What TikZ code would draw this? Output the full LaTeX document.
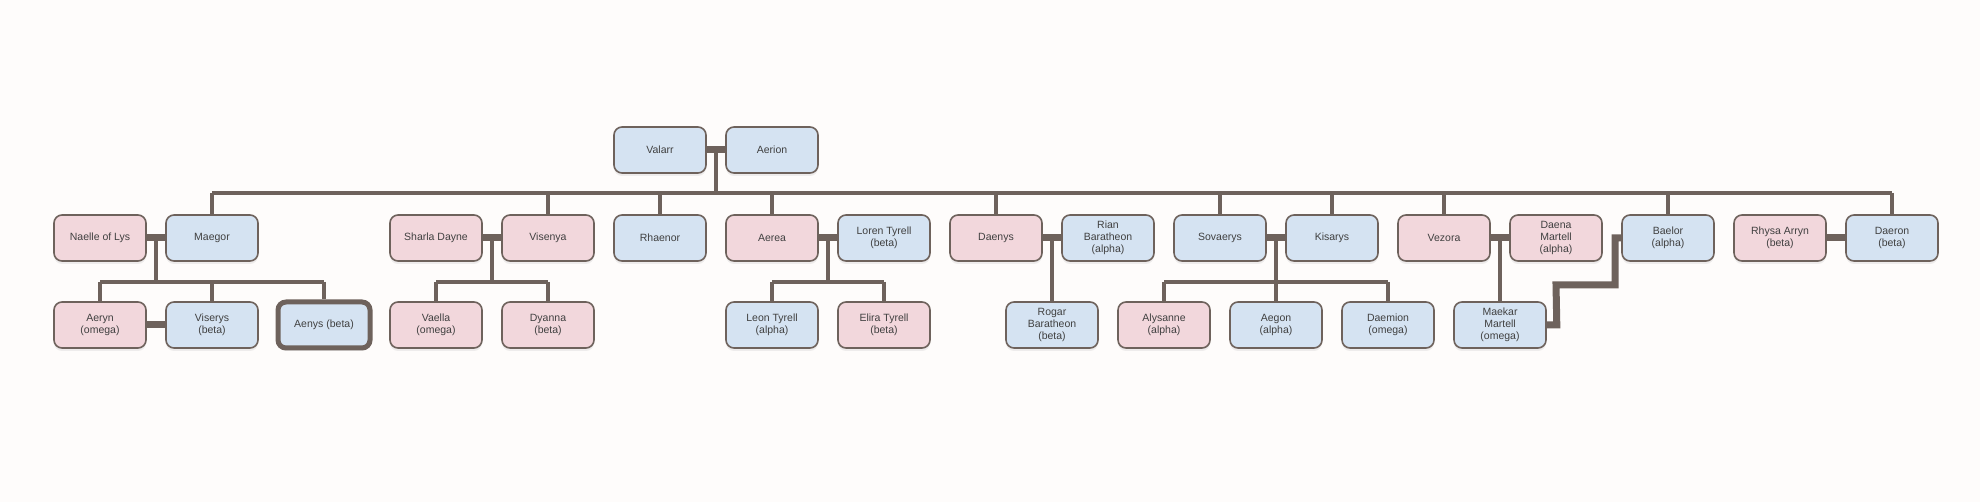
\documentclass[tikz,border=0pt]{standalone}
\usepackage{fontspec}
\setmainfont{Liberation Sans}
\usetikzlibrary{shadows}
\definecolor{fondrose}{HTML}{F2D7DC}
\definecolor{fondbleu}{HTML}{D5E3F2}
\definecolor{trait}{HTML}{6E625C}
\tikzset{
    membre/.style={draw=trait, line width=1.6pt, rounded corners=8pt, minimum width=92pt,
        minimum height=46pt, align=center, inner sep=1pt,
        font=\fontsize{10.5}{12}\selectfont\color{black!75},
        drop shadow={shadow xshift=0pt, shadow yshift=-3pt, opacity=0.12}},
    rose/.style={membre, fill=fondrose},
    bleu/.style={membre, fill=fondbleu},
    lien/.style={draw=trait, line width=3.5pt},
    union/.style={draw=trait, line width=7pt}
}
\begin{document}
\begin{tikzpicture}[x=1pt,y=-1pt]
    % Fond
    \fill[white!98!brown] (0,0) rectangle (1980,502);
    \useasboundingbox (0,0) rectangle (1980,502);
    % Generation 1
    \node[bleu] (valarr) at (660,150) {Valarr};
    \node[bleu] (aerion) at (772,150) {Aerion};
    % Generation 2
    \node[rose] (naelle) at (100,238) {Naelle of Lys};
    \node[bleu] (maegor) at (212,238) {Maegor};
    \node[rose] (sharla) at (436,238) {Sharla Dayne};
    \node[rose] (visenya) at (548,238) {Visenya};
    \node[bleu] (rhaenor) at (660,238) {Rhaenor};
    \node[rose] (aerea) at (772,238) {Aerea};
    \node[bleu] (loren) at (884,238) {Loren Tyrell\\(beta)};
    \node[rose] (daenys) at (996,238) {Daenys};
    \node[bleu] (rian) at (1108,238) {Rian\\Baratheon\\(alpha)};
    \node[bleu] (sovaerys) at (1220,238) {Sovaerys};
    \node[bleu] (kisarys) at (1332,238) {Kisarys};
    \node[rose] (vezora) at (1444,238) {Vezora};
    \node[rose] (daena) at (1556,238) {Daena\\Martell\\(alpha)};
    \node[bleu] (baelor) at (1668,238) {Baelor\\(alpha)};
    \node[rose] (rhysa) at (1780,238) {Rhysa Arryn\\(beta)};
    \node[bleu] (daeron) at (1892,238) {Daeron\\(beta)};
    % Generation 3
    \node[rose] (aeryn) at (100,325) {Aeryn\\(omega)};
    \node[bleu] (viserys) at (212,325) {Viserys\\(beta)};
    \node[bleu, line width=5pt] (aenys) at (324,325) {Aenys (beta)};
    \node[rose] (vaella) at (436,325) {Vaella\\(omega)};
    \node[rose] (dyanna) at (548,325) {Dyanna\\(beta)};
    \node[bleu] (leon) at (772,325) {Leon Tyrell\\(alpha)};
    \node[rose] (elira) at (884,325) {Elira Tyrell\\(beta)};
    \node[bleu] (rogar) at (1052,325) {Rogar\\Baratheon\\(beta)};
    \node[rose] (alysanne) at (1164,325) {Alysanne\\(alpha)};
    \node[bleu] (aegon) at (1276,325) {Aegon\\(alpha)};
    \node[bleu] (daemion) at (1388,325) {Daemion\\(omega)};
    \node[bleu] (maekar) at (1500,325) {Maekar\\Martell\\(omega)};
    % Unions
    \begin{scope}[on background layer/.style={}]
    \foreach \a/\b in {valarr/aerion, naelle/maegor, sharla/visenya, aerea/loren,
        daenys/rian, sovaerys/kisarys, vezora/daena, rhysa/daeron, aeryn/viserys}
        \draw[union] (\a.east) -- (\b.west);
    \end{scope}
    % Descendance de Valarr et Aerion
    \coordinate (bus) at (716,193);
    \draw[lien] (716,150) -- (bus);
    \draw[lien] (maegor.north |- bus) -- (daeron.north |- bus);
    \foreach \n in {maegor, visenya, rhaenor, aerea, daenys, sovaerys, kisarys, vezora, baelor, daeron}
        \draw[lien] (\n.north |- bus) -- (\n.north);
    % Descendance des couples
    \foreach \m/\g/\d/\enf in {156/aeryn/aenys/{aeryn,viserys,aenys},
        492/vaella/dyanna/{vaella,dyanna}, 828/leon/elira/{leon,elira},
        1276/alysanne/daemion/{alysanne,aegon,daemion}} {
        \draw[lien] (\m,238) -- (\m,282);
        \draw[lien] (\g.north |- 0,282) -- (\d.north |- 0,282);
        \foreach \e in \enf
            \draw[lien] (\e.north |- 0,282) -- (\e.north);
    }
    \draw[lien] (1052,238) -- (rogar.north);
    \draw[lien] (1500,238) -- (maekar.north);
    % Union Maekar et Baelor
    \draw[union] (maekar.east) -- ++(10,0) -- (1556,285) -- (1615,285) -- (1615,238) -- (baelor.west);
\end{tikzpicture}
\end{document}
